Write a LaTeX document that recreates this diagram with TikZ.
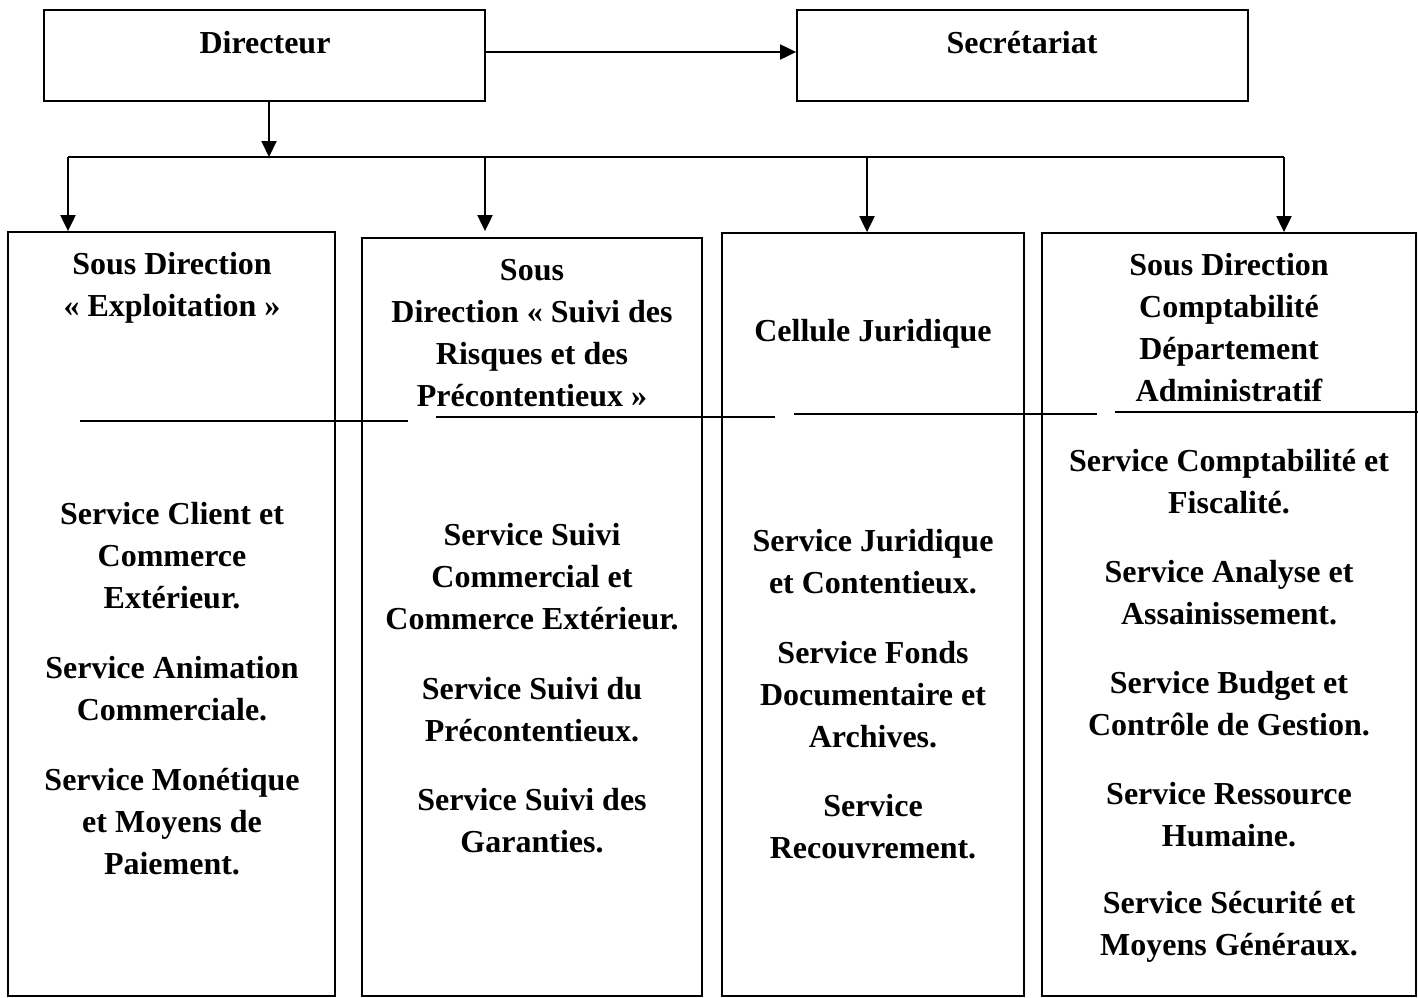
\documentclass[tikz,border=0pt]{standalone}
\usepackage{fontspec}
\setmainfont{Liberation Serif}
\usetikzlibrary{fit,arrows.meta}
\begin{document}
\begin{tikzpicture}[x=0.5pt,y=-0.5pt,
 box/.style={draw,line width=0.9pt,inner sep=0pt},
 txt/.style={align=center,inner sep=0pt,font=\bfseries\fontsize{16}{21}\selectfont},
 arr/.style={line width=1pt,-{Triangle[length=8pt,width=7.5pt]}},
 ln/.style={line width=1pt}]
\useasboundingbox (0,0) rectangle (1418,997);
% top boxes
\node[box,fit={(44,10) (485,101)}] (dir) {};
\node[box,fit={(797,10) (1248,101)}] (sec) {};
\node[txt] (dirt) at (265,43) {Directeur};
\node[txt] (sect) at (1022,43) {Secrétariat};
% column boxes
\node[box,fit={(8,232) (335,996)}] (b1) {};
\node[box,fit={(362,238) (702,996)}] (b2) {};
\node[box,fit={(722,233) (1024,996)}] (b3) {};
\node[box,fit={(1042,233) (1416,996)}] (b4) {};
% connectors
\coordinate (j) at (269,157);
\coordinate (t1) at (68,157);
\coordinate (t2) at (485,157);
\coordinate (t3) at (867,157);
\coordinate (t4) at (1284,157);
\coordinate (ys) at (0,52);
\draw[arr] (dir.east |- ys) -- (sec.west |- ys);
\draw[arr] (dir.south -| j) -- (j);
\draw[ln] (t1) -- (t4);
\draw[arr] (t1) -- (t1 |- b1.north);
\draw[arr] (t2) -- (t2 |- b1.north);
\draw[arr] (t3) -- (t3 |- b3.north);
\draw[arr] (t4) -- (t4 |- b4.north);
% separators
\draw[ln] (80,421) -- (408,421);
\draw[ln] (436,417) -- (775,417);
\draw[ln] (794,414) -- (1097,414);
\draw[ln] (1115,412) -- (1418,412);
% column 1
\node[txt] (h1) at (172,288) {Sous Direction\\« Exploitation »};
\node[txt] (s11) at (172,556) {Service Client et\\Commerce\\Extérieur.};
\node[txt] (s12) at (172,689) {Service Animation\\Commerciale.};
\node[txt] (s13) at (172,822) {Service Monétique\\et Moyens de\\Paiement.};
% column 2
\node[txt] (h2) at (532,333) {Sous\\Direction « Suivi des\\Risques et des\\Précontentieux »};
\node[txt] (s21) at (532,577) {Service Suivi\\Commercial et\\Commerce Extérieur.};
\node[txt] (s22) at (532,710) {Service Suivi du\\Précontentieux.};
\node[txt] (s23) at (532,821) {Service Suivi des\\Garanties.};
% column 3
\node[txt] (h3) at (873,334) {Cellule Juridique};
\node[txt] (s31) at (873,562) {Service Juridique\\et Contentieux.};
\node[txt] (s32) at (873,695) {Service Fonds\\Documentaire et\\Archives.};
\node[txt] (s33) at (873,827) {Service\\Recouvrement.};
% column 4
\node[txt] (h4) at (1229,328) {Sous Direction\\Comptabilité\\Département\\Administratif};
\node[txt] (s41) at (1229,482) {Service Comptabilité et\\Fiscalité.};
\node[txt] (s42) at (1229,593) {Service Analyse et\\Assainissement.};
\node[txt] (s43) at (1229,704) {Service Budget et\\Contrôle de Gestion.};
\node[txt] (s44) at (1229,815) {Service Ressource\\Humaine.};
\node[txt] (s45) at (1229,927) {Service Sécurité et\\Moyens Généraux.};
\end{tikzpicture}
\end{document}
